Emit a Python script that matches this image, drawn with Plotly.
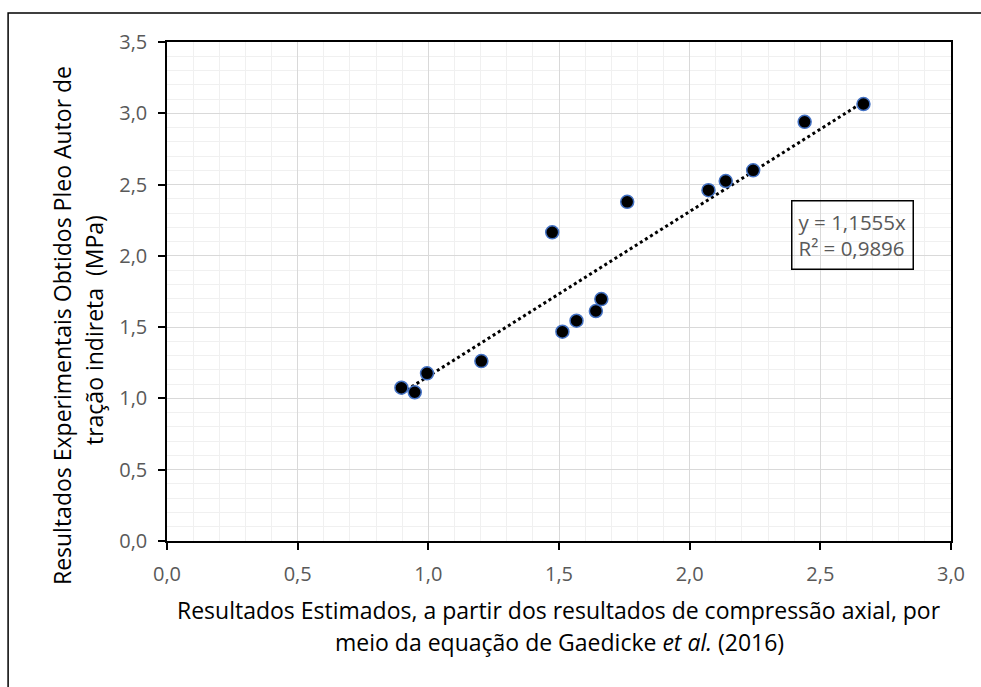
import plotly.graph_objects as go

# Estimated (Gaedicke et al. 2016) vs. experimental splitting tensile strength, MPa
estimados = [0.897, 0.948, 0.995, 1.203, 1.474, 1.513, 1.567, 1.641, 1.662,
             1.761, 2.072, 2.138, 2.243, 2.440, 2.665]
experimentais = [1.075, 1.043, 1.176, 1.262, 2.165, 1.468, 1.545, 1.613, 1.697,
                 2.379, 2.461, 2.525, 2.600, 2.940, 3.065]

# Linear trend forced through the origin
slope = 1.1555
r2 = 0.9896

x_ticks = [0.0, 0.5, 1.0, 1.5, 2.0, 2.5, 3.0]
y_ticks = [0.0, 0.5, 1.0, 1.5, 2.0, 2.5, 3.0, 3.5]

W, H = 981, 687
L, R, T, B = 167, 951.5, 42, 541

FONT = "Open Sans, Liberation Sans, Arial"
GRAY = "#595959"

fig = go.Figure()

x_min, x_max = min(estimados), max(estimados)
fig.add_trace(go.Scatter(
    x=[x_min, x_max], y=[slope * x_min, slope * x_max],
    mode="lines", line=dict(color="black", width=3, dash="dot"),
    hoverinfo="skip", showlegend=False))

fig.add_trace(go.Scatter(
    x=estimados, y=experimentais, mode="markers",
    marker=dict(size=13, color="black", line=dict(color="#4472C4", width=1.5)),
    showlegend=False))


def fmt(v):
    return f"{v:.1f}".replace(".", ",")


axis_common = dict(
    showline=True, linecolor="black", linewidth=1.5, mirror=True,
    ticks="outside", ticklen=7, tickwidth=1.5, tickcolor="black",
    ticklabelstandoff=7,
    showgrid=True, gridcolor="#d9d9d9", gridwidth=1,
    zeroline=False,
    tickfont=dict(family=FONT, size=20, color=GRAY),
)

fig.update_xaxes(
    range=[0, 3], tickvals=x_ticks, ticktext=[fmt(v) for v in x_ticks],
    minor=dict(dtick=0.1, showgrid=True, gridcolor="#f0f0f0", gridwidth=1),
    **axis_common)
fig.update_yaxes(
    range=[0, 3.5], tickvals=y_ticks, ticktext=[fmt(v) for v in y_ticks],
    minor=dict(dtick=0.1, showgrid=True, gridcolor="#f0f0f0", gridwidth=1),
    **axis_common)


def px_x(p):
    return (p - L) / (R - L)


def px_y(p):
    return (B - p) / (B - T)


TITLE_FONT = dict(family=FONT, size=23, color="black")


def label(text, cx, cy, **kw):
    return dict(text=text, x=px_x(cx), y=px_y(cy), xref="paper", yref="paper",
                xanchor="center", yanchor="middle", showarrow=False, **kw)


annotations = [
    # x-axis title, two centred lines
    label("Resultados Estimados, a partir dos resultados de compressão axial, por",
          (L + R) / 2, 610, font=TITLE_FONT),
    label("meio da equação de Gaedicke <i>et al.</i> (2016)",
          (L + R) / 2, 642, font=TITLE_FONT),
    # y-axis title, two rotated lines
    label("Resultados Experimentais Obtidos Pleo Autor de",
          62, 326, textangle=-90, font=TITLE_FONT),
    label("tração indireta  (MPa)",
          94, 330, textangle=-90, font=TITLE_FONT),
    # trendline equation box
    label(f"y = {slope:.4f}x".replace(".", ",") + "<br>" +
          f"R² = {r2:.4f}".replace(".", ","),
          853, 234.7, align="left",
          bordercolor="black", borderwidth=1.5, borderpad=6,
          font=dict(family=FONT, size=20.5, color=GRAY)),
]

# Outer chart frame (runs past the right and bottom edges of the page)
shapes = [dict(type="rect", xref="paper", yref="paper",
               x0=px_x(8), x1=px_x(995), y0=px_y(700), y1=px_y(13),
               line=dict(color="black", width=1.5), layer="below")]

fig.update_layout(
    width=W, height=H,
    margin=dict(l=L, r=W - R, t=T, b=H - B),
    plot_bgcolor="white", paper_bgcolor="white",
    showlegend=False,
    annotations=annotations, shapes=shapes,
    font=dict(family=FONT),
)

fig.write_html("out.html")
